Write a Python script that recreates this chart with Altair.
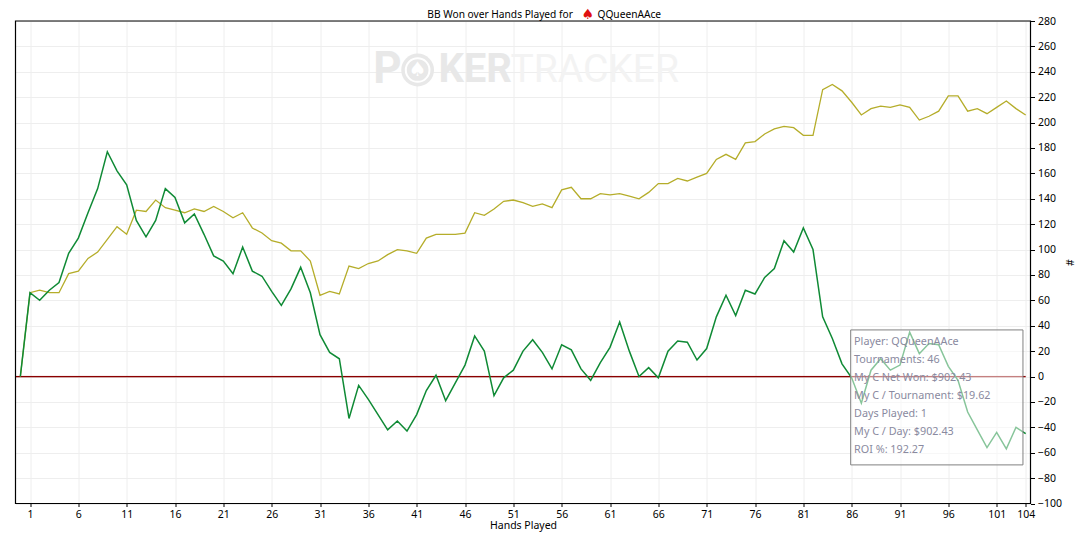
import altair as alt
import pandas as pd

green = [0,66,60,68,74,97,109,129,148,177,162,151,123,110,123,148,141,121,128,112,95,91,81,102,83,79,67,56,69,86,66,33,19,14,-33,-7,-18,-30,-42,-35,-43,-30,-11,1,-19,-5,9,32,20,-15,-1,5,20,29,19,6,25,21,6,-3,11,23,43,20,0,7,-1,20,28,27,13,22,47,64,48,68,65,78,85,107,98,117,100,47,30,10,-1,-21,5,14,5,9,35,18,26,25,8,-3,-28,-42,-56,-44,-57,-40,-45]
tan = [0,66,68,66,66,81,83,93,98,108,118,112,131,130,139,133,131,129,132,130,134,130,125,129,117,113,107,105,99,99,91,64,67,65,87,85,89,91,96,100,99,97,109,112,112,112,113,129,127,132,138,139,137,134,136,133,147,149,140,140,144,143,144,142,140,145,152,152,156,154,157,160,171,175,171,184,185,191,195,197,196,190,190,226,230,225,216,206,211,213,212,214,212,202,205,209,221,221,209,211,207,212,217,211,206]
hands = list(range(105))
x_ticks = [1,6,11,16,21,26,31,36,41,46,51,56,61,66,71,76,81,86,91,96,101,104]
y_ticks = list(range(-100,281,20))
note_lines = ["Player: QQueenAAce","Tournaments: 46","My C Net Won: $902.43","My C / Tournament: $19.62","Days Played: 1","My C / Day: $902.43","ROI %: 192.27"]
note_y = [27.2,13.0,-1.2,-15.4,-29.5,-43.7,-57.9]
FONT = "Noto Sans"
FS = 10.5

XS = alt.Scale(domain=[-0.5,104.5], nice=False, zero=False)
YS = alt.Scale(domain=[-100,280], nice=False, zero=False)
W, H = 1015, 482.5

df = pd.DataFrame({"h":hands,"green":green,"tan":tan})

X_AXIS = alt.Axis(values=x_ticks, title="Hands Played", grid=True, gridColor="#eeeeee", gridWidth=1,
    labelFont=FONT, labelFontSize=FS, labelColor="#000", titleFont=FONT, titleFontSize=FS, titleFontWeight="normal", titleColor="#000",
    tickSize=3, tickColor="#000", labelPadding=3, titlePadding=0, domain=False, labelFlush=False, labelOverlap=False, format="d")
Y_AXIS = alt.Axis(orient="right", values=y_ticks, title="#", grid=True, gridColor="#eeeeee", gridWidth=1,
    labelFont=FONT, labelFontSize=FS, labelColor="#000", titleFont=FONT, titleFontSize=FS, titleFontWeight="normal", titleColor="#000",
    tickSize=4, tickColor="#000", labelPadding=3, titlePadding=2, domain=False, labelOverlap=False, format="d")

def X(f="x:Q"):
    return alt.X(f, scale=XS, axis=X_AXIS)
def Y(f="y:Q"):
    return alt.Y(f, scale=YS, axis=Y_AXIS)

# watermark
wm1a = alt.Chart(pd.DataFrame({"x":[36.5],"y":[241.4],"t":["P"]})).mark_text(font="Roboto", fontWeight="bold", fontSize=44, align="left", baseline="middle", color="#e8e8e8").encode(x=X(), y=Y(), text="t:N")
wm1b = alt.Chart(pd.DataFrame({"x":[43.25],"y":[241.4],"t":["KER"]})).mark_text(font="Roboto", fontWeight="bold", fontSize=40, align="left", baseline="middle", color="#e8e8e8").encode(x=X(), y=Y(), text="t:N")
wm2 = alt.Chart(pd.DataFrame({"x":[50.7],"y":[241.4],"t":["TRACKER"]})).mark_text(font="Roboto", fontSize=39, align="left", baseline="middle", color="#f3f3f3").encode(x=X(), y=Y(), text="t:N")
chip_df = pd.DataFrame({"x":[41.1],"y":[241.4],"t":["\u2660"]})
chip1 = alt.Chart(chip_df).mark_point(filled=True, size=1075, color="#e8e8e8", opacity=1).encode(x=X(), y=Y())
chip2 = alt.Chart(chip_df).mark_point(filled=False, size=560, color="#ffffff", strokeWidth=2, opacity=1).encode(x=X(), y=Y())
chip3 = alt.Chart(chip_df).mark_text(font="DejaVu Sans", fontSize=20, align="center", baseline="middle", color="#ffffff").encode(x=X(), y=Y(), text="t:N")

zero = pd.DataFrame({"x":[-0.5],"x2":[104],"y":[0]})
zero_glow = alt.Chart(zero).mark_rule(color="#8b0000", strokeWidth=2.6, opacity=0.08).encode(x=X(), x2="x2:Q", y=Y())
zero_rule = alt.Chart(zero).mark_rule(color="#8b0000", strokeWidth=1.2).encode(x=X(), x2="x2:Q", y=Y())

l_tan = alt.Chart(df).mark_line(color="#b5ad2a", strokeWidth=1.3).encode(x=X("h:Q"), y=Y("tan:Q"))
l_green = alt.Chart(df).mark_line(color="#0f8a35", strokeWidth=1.5).encode(x=X("h:Q"), y=Y("green:Q"))

box = pd.DataFrame({"x":[85.9],"x2":[103.72],"y":[36.7],"y2":[-69.6]})
box_m = alt.Chart(box).mark_rect(fill="#ffffff", fillOpacity=0.5, stroke="#808080", strokeWidth=1).encode(x=X(), x2="x2:Q", y=Y(), y2="y2:Q")

nd = pd.DataFrame({"x":[86.25]*len(note_lines),"y":note_y,"t":note_lines})
note = alt.Chart(nd).mark_text(font=FONT, fontSize=10.8, align="left", baseline="middle", color="#8a8aa0").encode(x=X(), y=Y(), text="t:N")

frame = alt.Chart(pd.DataFrame({"x":[-0.5],"x2":[104.5],"y":[280],"y2":[-100]})).mark_rect(fill="transparent", stroke="#000", strokeWidth=1.2).encode(x=X(), x2="x2:Q", y=Y(), y2="y2:Q")

# The page's svg starts at y=8, so the title sits just inside it, above the frame
ttl = pd.DataFrame({"x":[42.1,59.7],"y":[284.6,284.6],"t":["BB Won over Hands Played for","QQueenAAce"]})
ttl_m = alt.Chart(ttl).mark_text(font=FONT, fontSize=10.2, align="left", baseline="middle", color="#000").encode(x=X(), y=Y(), text="t:N")
spade = alt.Chart(pd.DataFrame({"x":[58.7],"y":[284.6],"t":["\u2660"]})).mark_text(font="DejaVu Sans", fontSize=14, align="center", baseline="middle", color="#e01010").encode(x=X(), y=Y(), text="t:N")

chart = alt.layer(wm1a, wm1b, wm2, chip1, chip2, chip3, zero_glow, zero_rule, l_tan, l_green, box_m, note, frame, ttl_m, spade).properties(
    width=W, height=H, autosize=alt.AutoSizeParams(type="none"),
    padding={"left":7.5,"top":13,"right":45.5,"bottom":29},
).configure_view(stroke=None)

chart.save("out.html", embed_options={"renderer": "svg", "actions": False})
